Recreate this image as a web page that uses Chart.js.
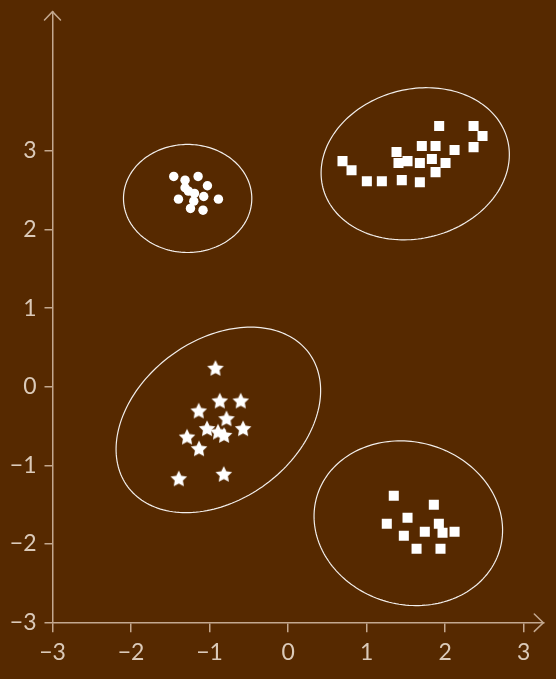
<!DOCTYPE html>
<html>
<head>
<meta charset="utf-8">
<script src="https://cdn.jsdelivr.net/npm/chart.js@4/dist/chart.umd.min.js"></script>
<style>
  html, body { margin: 0; padding: 0; background: #562900; }
  #chart { display: block; width: 556px; height: 679px; }
</style>
</head>
<body>
<canvas id="chart" width="556" height="679"></canvas>
<script>
// Tick values for both axes
const xTickValues = [-3, -2, -1, 0, 1, 2, 3];
const yTickValues = [-3, -2, -1, 0, 1, 2, 3];

// Cluster A (circles)
const circleX = [-1.456, -1.312, -1.146, -1.027, -1.312, -1.269, -1.192, -1.074, -1.396, -1.201, -0.887, -1.243, -1.083];
const circleY = [2.675, 2.628, 2.675, 2.557, 2.531, 2.488, 2.459, 2.420, 2.386, 2.361, 2.386, 2.268, 2.246];

// Cluster B (squares, upper right)
const upperSquareX = [1.924, 2.362, 2.476, 2.362, 1.703, 1.878, 2.120, 1.381, 0.693, 1.406, 1.521, 1.678, 1.831, 2.005, 0.808, 1.878, 1.003, 1.194, 1.448, 1.678];
const upperSquareY = [3.316, 3.316, 3.189, 3.048, 3.061, 3.061, 3.010, 2.985, 2.870, 2.845, 2.870, 2.845, 2.896, 2.845, 2.755, 2.730, 2.615, 2.615, 2.628, 2.602];

// Cluster C (stars)
const starX = [-0.925, -0.870, -0.603, -1.138, -0.785, -0.573, -1.032, -0.892, -0.815, -1.287, -1.134, -1.392, -0.819];
const starY = [0.229, -0.187, -0.187, -0.314, -0.412, -0.539, -0.539, -0.582, -0.624, -0.645, -0.794, -1.176, -1.119];

// Cluster D (squares, lower right)
const lowerSquareX = [1.346, 1.856, 1.521, 1.257, 1.920, 1.474, 1.741, 1.967, 2.120, 1.636, 1.941];
const lowerSquareY = [-1.385, -1.499, -1.665, -1.741, -1.741, -1.894, -1.843, -1.856, -1.843, -2.060, -2.060];

// Cluster ellipses: centre, semi-axes and rotation (degrees) in data units
const ellipseCenterX = [-1.279, 1.619, -0.888, 1.531];
const ellipseCenterY = [2.395, 2.836, -0.421, -1.735];
const ellipseSemiA  = [0.817, 1.214, 1.433, 1.213];
const ellipseSemiB  = [0.687, 0.948, 1.017, 1.033];
const ellipseAngle  = [0, 14.7, 36.3, -15.9];

const AXIS = '#c3a88f';
const LABEL = '#dbcab9';
const MARK = '#ffffff';

function toPoints(xs, ys) {
  return xs.map((x, i) => ({ x: x, y: ys[i] }));
}

// Filled five-pointed star used as a point style
function makeStar(outer, inner) {
  const size = Math.ceil(outer * 2 + 2);
  const c = document.createElement('canvas');
  c.width = size; c.height = size;
  const g = c.getContext('2d');
  g.fillStyle = MARK;
  g.beginPath();
  for (let i = 0; i < 10; i++) {
    const r = i % 2 === 0 ? outer : inner;
    const a = -Math.PI / 2 + i * Math.PI / 5;
    const px = size / 2 + r * Math.cos(a);
    const py = size / 2 + r * Math.sin(a);
    if (i === 0) g.moveTo(px, py); else g.lineTo(px, py);
  }
  g.closePath();
  g.fill();
  return c;
}
const starImage = makeStar(8.7, 4.3);

const fmt = v => String(v).replace('-', '\u2212');

const ellipsePlugin = {
  id: 'clusterEllipses',
  beforeDatasetsDraw(chart) {
    const { ctx } = chart;
    const xs = chart.scales.x, ys = chart.scales.y;
    ctx.save();
    ctx.strokeStyle = 'rgba(255,255,255,0.92)';
    ctx.lineWidth = 1.2;
    for (let k = 0; k < ellipseCenterX.length; k++) {
      const th = ellipseAngle[k] * Math.PI / 180;
      const ct = Math.cos(th), st = Math.sin(th);
      ctx.beginPath();
      const N = 180;
      for (let i = 0; i <= N; i++) {
        const t = i / N * Math.PI * 2;
        const u = ellipseSemiA[k] * Math.cos(t), w = ellipseSemiB[k] * Math.sin(t);
        const dx = ellipseCenterX[k] + u * ct - w * st;
        const dy = ellipseCenterY[k] + u * st + w * ct;
        const px = xs.getPixelForValue(dx), py = ys.getPixelForValue(dy);
        if (i === 0) ctx.moveTo(px, py); else ctx.lineTo(px, py);
      }
      ctx.closePath();
      ctx.stroke();
    }
    ctx.restore();
  }
};

const arrowPlugin = {
  id: 'axisArrows',
  afterDraw(chart) {
    const { ctx, chartArea } = chart;
    ctx.save();
    ctx.strokeStyle = AXIS;
    ctx.lineWidth = 1.5;
    ctx.lineCap = 'round';
    const yb = chartArea.bottom, xr = chartArea.right;
    ctx.beginPath();
    ctx.moveTo(xr - 9, yb - 8.7);
    ctx.lineTo(xr, yb);
    ctx.lineTo(xr - 9, yb + 8.7);
    ctx.stroke();
    const xl = chartArea.left, yt = chartArea.top;
    ctx.beginPath();
    ctx.moveTo(xl - 8, yt + 8.3);
    ctx.lineTo(xl, yt);
    ctx.lineTo(xl + 8, yt + 8.3);
    ctx.stroke();
    ctx.restore();
  }
};

const tickFont = { family: "Lato, sans-serif", size: 23 };

new Chart(document.getElementById('chart'), {
  type: 'scatter',
  data: {
    datasets: [
      { data: toPoints(circleX, circleY), pointStyle: 'circle', pointRadius: 4.7, backgroundColor: MARK, borderWidth: 0 },
      { data: toPoints(upperSquareX, upperSquareY), pointStyle: 'rect', pointRadius: 7.1, backgroundColor: MARK, borderWidth: 0 },
      { data: toPoints(starX, starY), pointStyle: starImage, pointRadius: 8, backgroundColor: MARK, borderWidth: 0 },
      { data: toPoints(lowerSquareX, lowerSquareY), pointStyle: 'rect', pointRadius: 7.1, backgroundColor: MARK, borderWidth: 0 }
    ]
  },
  options: {
    responsive: false,
    animation: false,
    events: [],
    layout: { padding: { top: 11.7, right: 12.7, left: 0, bottom: 0 } },
    plugins: { legend: { display: false }, tooltip: { enabled: false } },
    scales: {
      x: {
        type: 'linear', min: -3, max: 3.25,
        afterBuildTicks: s => { s.ticks = xTickValues.map(v => ({ value: v })); },
        afterFit: s => { s.height = 56.3; s.paddingLeft = 0; s.paddingRight = 0; },
        ticks: { callback: v => fmt(v), color: LABEL, font: tickFont, padding: 7, autoSkip: false, maxRotation: 0 },
        grid: { drawOnChartArea: false, drawTicks: true, tickLength: 9.5, color: AXIS, lineWidth: 1.5 },
        border: { display: true, color: AXIS, width: 1.5 }
      },
      y: {
        type: 'linear', min: -3, max: 4.77,
        afterBuildTicks: s => { s.ticks = yTickValues.map(v => ({ value: v })); },
        afterFit: s => { s.width = 52.5; s.paddingTop = 0; s.paddingBottom = 0; },
        ticks: { callback: v => fmt(v), color: LABEL, font: tickFont, padding: 8, autoSkip: false },
        grid: { drawOnChartArea: false, drawTicks: true, tickLength: 8, color: AXIS, lineWidth: 1.5 },
        border: { display: true, color: AXIS, width: 1.5 }
      }
    }
  },
  plugins: [ellipsePlugin, arrowPlugin]
});
</script>
</body>
</html>
